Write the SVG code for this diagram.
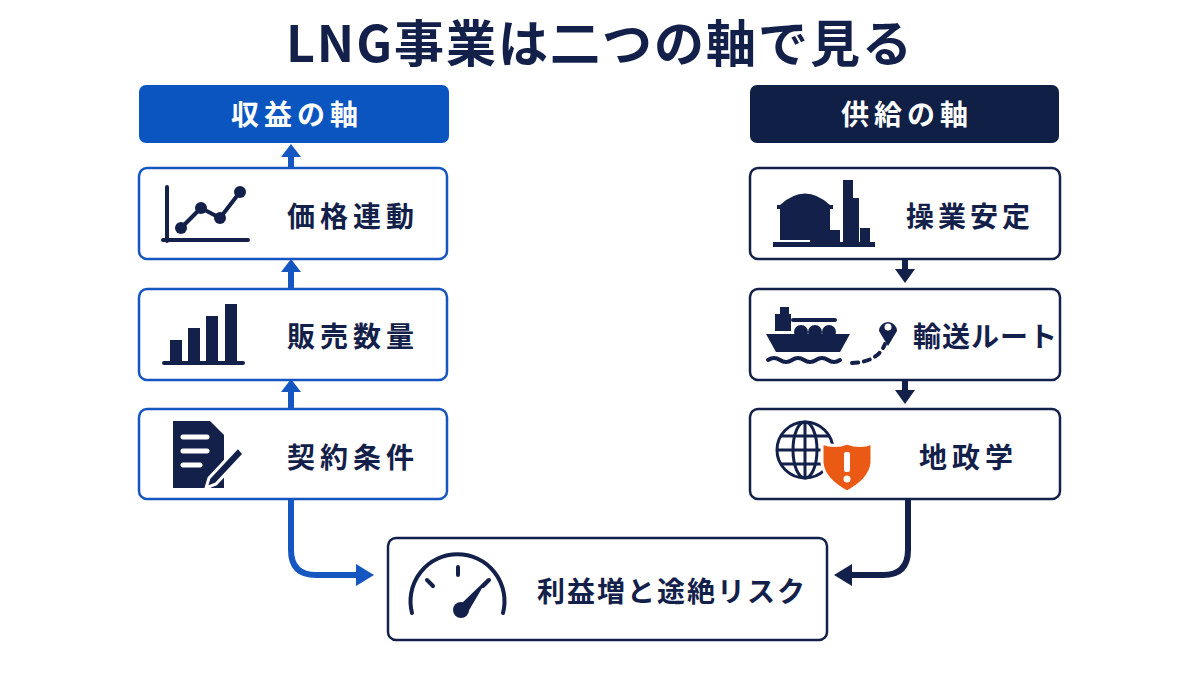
<svg xmlns="http://www.w3.org/2000/svg" width="1200" height="675" viewBox="0 0 1200 675">
<style>
.t{font-family:"Noto Sans CJK JP","Noto Sans",sans-serif;font-weight:700;fill:#13214a}
.bb{fill:#fff;stroke:#1556c0;stroke-width:2.5}
.nb{fill:#fff;stroke:#13214a;stroke-width:2.5}
.n{fill:#13214a}
.b{fill:#1556c0}
.ln{fill:none;stroke:#13214a;stroke-width:4;stroke-linecap:round;stroke-linejoin:round}
</style>
<rect width="1200" height="675" fill="#fff"/>
<text class="t" x="600" y="62" font-size="50" text-anchor="middle" letter-spacing="2">LNG事業は二つの軸で見る</text>

<g id="rev-head"><rect x="139" y="85" width="310" height="58" rx="7" fill="#0b55c1"/><text class="t" x="297" y="125" font-size="28" text-anchor="middle" style="fill:#fff" letter-spacing="5">収益の軸</text></g>
<g id="price"><rect class="bb" x="139" y="168" width="308" height="91" rx="8"/>
<path class="ln" d="M167,187V241M163,240H248" stroke-width="3"/>
<path class="ln" d="M181,228L201,208L220,218L240,192" stroke-width="4"/>
<circle class="n" cx="181" cy="228" r="6"/><circle class="n" cx="201" cy="208" r="6"/><circle class="n" cx="220" cy="218" r="6"/><circle class="n" cx="240" cy="192" r="6"/>
<text class="t" x="287" y="227" font-size="28" letter-spacing="5">価格連動</text></g>
<g id="volume"><rect class="bb" x="139" y="289" width="308" height="91" rx="8"/>
<rect class="n" x="170" y="340" width="12" height="23"/><rect class="n" x="188" y="328" width="12" height="35"/><rect class="n" x="206" y="316" width="12" height="47"/><rect class="n" x="225" y="304" width="12" height="59"/>
<path class="ln" d="M164,363H243" stroke-width="3"/>
<text class="t" x="287" y="347" font-size="28" letter-spacing="5">販売数量</text></g>
<g id="contract"><rect class="bb" x="139" y="409" width="308" height="90" rx="8"/>
<path class="n" d="M173,421H210L224,435V488H173Z"/>
<path d="M183,437H207M183,451H207M183,465H200" stroke="#fff" stroke-width="5" stroke-linecap="round"/>
<path d="M238,447L209,478L206,488L216,484L244,454Z" fill="#13214a" stroke="#fff" stroke-width="3"/>
<text class="t" x="287" y="468" font-size="28" letter-spacing="5">契約条件</text></g>

<g id="sup-head"><rect x="750" y="85" width="309" height="58" rx="7" fill="#0f1f45"/><text class="t" x="907" y="125" font-size="28" text-anchor="middle" style="fill:#fff" letter-spacing="5">供給の軸</text></g>
<g id="ops"><rect class="nb" x="750" y="168" width="310" height="91" rx="8"/>
<path class="n" d="M780,205Q805,182 830,205V240H780Z"/><rect class="n" x="777" y="205" width="56" height="4"/>
<rect class="n" x="843" y="180" width="10" height="62"/><rect class="n" x="853" y="198" width="6" height="44"/><rect class="n" x="860" y="228" width="10" height="14"/><rect class="n" x="810" y="230" width="30" height="12"/>
<rect class="n" x="773" y="242" width="102" height="5"/>
<text class="t" x="906" y="227" font-size="28" letter-spacing="4">操業安定</text></g>
<g id="route"><rect class="nb" x="750" y="289" width="310" height="91" rx="8"/>
<rect class="n" x="780" y="307" width="9" height="8"/><rect class="n" x="775" y="314" width="16" height="17"/>
<path class="ln" d="M793,320H835" stroke-width="2.5"/>
<circle class="n" cx="801" cy="332" r="7"/><circle class="n" cx="815" cy="332" r="7"/><circle class="n" cx="829" cy="332" r="7"/>
<path class="n" d="M766,334H850L840,352H776Z"/>
<path class="ln" d="M768,360q6,-4 12,0t12,0t12,0t12,0t12,0t12,0" stroke-width="3"/>
<path class="ln" d="M852,363Q878,362 885,344" stroke-width="3" stroke-dasharray="6 6"/>
<path class="n" d="M888,346L879,331A9,9 0 1 1 897,331Z"/><circle cx="888" cy="327" r="3.5" fill="#fff"/>
<text class="t" x="913" y="347" font-size="28" letter-spacing="1">輸送ルート</text></g>
<g id="geo"><rect class="nb" x="750" y="409" width="310" height="90" rx="8"/>
<g fill="none" stroke="#13214a" stroke-width="3"><circle cx="805" cy="450" r="28"/><ellipse cx="805" cy="450" rx="12" ry="28"/><path d="M805,422V478M777,450H833M781,436H829M781,464H829"/></g>
<path d="M847,443Q860,448 872,443V463Q870,480 847,492Q824,480 822,463V443Q835,448 847,443Z" fill="#ea5a14" stroke="#fff" stroke-width="3"/>
<rect x="844" y="452" width="6" height="20" rx="2" fill="#fff"/><circle cx="847" cy="479" r="3.5" fill="#fff"/>
<text class="t" x="919" y="468" font-size="28" letter-spacing="5">地政学</text></g>

<g id="result"><rect class="nb" x="388" y="538" width="439" height="102" rx="8"/>
<path class="ln" d="M412,613A47,47 0 1 1 503,613" stroke-width="6"/>
<path class="ln" d="M458,567V575M427,580L433,586M489,580L483,586" stroke-width="4"/>
<path class="n" d="M488,578L468,612L461,604Z"/><circle class="n" cx="461" cy="610" r="8"/>
<text class="t" x="537" y="602" font-size="28" letter-spacing="2">利益増と途絶リスク</text></g>

<g id="connectors">
<path d="M291,409V390M291,289V270M291,168V156" stroke="#1556c0" stroke-width="6" fill="none"/>
<path class="b" d="M281,392L291,379L301,392ZM281,272L291,259L301,272ZM281,157L291,144L301,157Z"/>
<path d="M905,259V270M905,380V391" stroke="#13214a" stroke-width="6" fill="none"/>
<path class="n" d="M895,269L905,283L915,269ZM895,390L905,404L915,390Z"/>
<path d="M291,500V550Q291,575 316,575H358" stroke="#1556c0" stroke-width="6" fill="none"/>
<path class="b" d="M356,564L374,575L356,586Z"/>
<path d="M908,500V550Q908,575 883,575H850" stroke="#13214a" stroke-width="6" fill="none"/>
<path class="n" d="M852,564L834,575L852,586Z"/>
</g>
</svg>
